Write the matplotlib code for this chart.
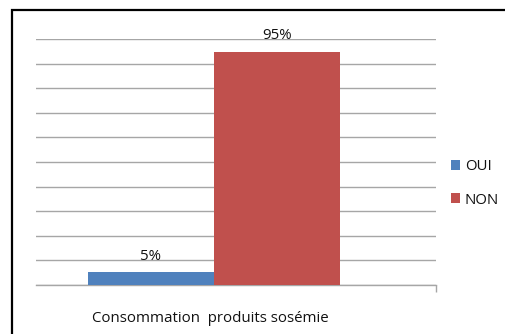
import matplotlib
matplotlib.use("Agg")
import matplotlib.pyplot as plt
from matplotlib.patches import Rectangle

categories = ["Consommation  produits sosémie"]
series_names = ["OUI", "NON"]
values = [0.05, 0.95]
colors = ["#4F81BD", "#C0504D"]
yticks = [i / 10 for i in range(11)]

W, H = 506, 334
fig = plt.figure(figsize=(W / 100, H / 100), dpi=100)
fig.patch.set_facecolor("white")
font = ["Open Sans", "DejaVu Sans"]
fs = 10.8

# outer border (clipped at right and bottom as in reference)
fig.add_artist(Rectangle((12 / W, -0.2), 1.2, (H - 10) / H + 0.2,
                         transform=fig.transFigure, fill=False,
                         edgecolor="black", linewidth=1.6, clip_on=False))

ax = fig.add_axes([36 / W, 49.3 / H, 400 / W, 245.4 / H])
bw = 1.0
offsets = [-bw / 2, bw / 2]
for name, v, c, off in zip(series_names, values, colors, offsets):
    ax.bar(0 + off, v, width=bw, color=c, label=name, zorder=3)
    ax.text(0 + off, v + 0.035, f"{round(v * 100)}%", ha="center", va="bottom",
            fontsize=fs, family=font, color="#111111", zorder=4)

ax.set_xlim(-1.409, 1.758)
ax.set_ylim(0, 1.0)
ax.set_yticks(yticks)
ax.yaxis.grid(True, color="#a6a6a6", linewidth=1.0, zorder=0)
ax.tick_params(axis="y", left=False, labelleft=False)
ax.set_xticks([-0.03])
ax.set_xticklabels(categories, family=font, fontsize=fs, color="#111111")
ax.tick_params(axis="x", length=0, pad=19)
ax.set_xticks([1.758], minor=True)
ax.tick_params(axis="x", which="minor", length=5, color="#a6a6a6", width=1.0)
for s in ["top", "right", "left"]:
    ax.spines[s].set_visible(False)
ax.spines["bottom"].set_color("#a6a6a6")
ax.spines["bottom"].set_linewidth(1.0)
ax.set_facecolor("none")

leg = fig.legend(loc="center left", bbox_to_anchor=(438 / W, (H - 183.5) / H),
                 frameon=False, prop={"family": font, "size": fs},
                 handlelength=0.6, handleheight=0.6, handletextpad=0.3,
                 labelspacing=1.2)
for t in leg.get_texts():
    t.set_color("#111111")

fig.savefig("out.png", dpi=100)
